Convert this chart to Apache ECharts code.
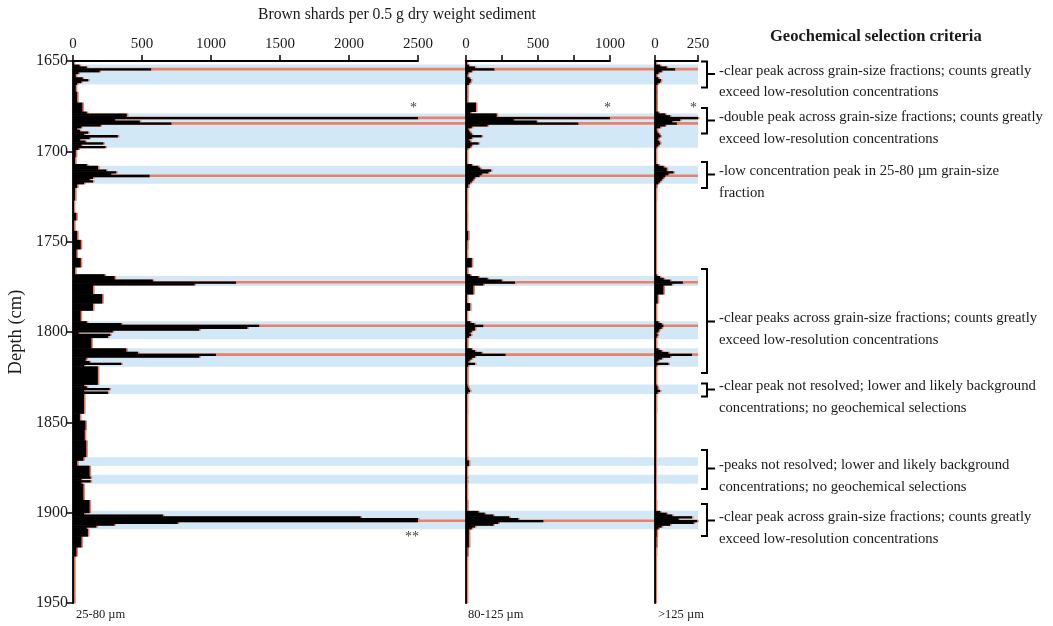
<!DOCTYPE html>
<html>
<head>
<meta charset="utf-8">
<script src="https://cdn.jsdelivr.net/npm/echarts@6/dist/echarts.min.js"></script>
<style>html,body{margin:0;padding:0;background:#fff;}#c{width:1053px;height:626px;}</style>
</head>
<body>
<div id="c"></div>
<script>
// depth bin boundaries (cm); value i covers depthEdges[i]..depthEdges[i+1]
const depthEdges = [1650,1652,1653,1654,1655,1656,1657,1659,1660,1661,1662,1663,1667,1673,1678,
  1679,1680,1681,1682,1683,1684,1685,1686,1687,1688,1689,1690,1691,1692,1693,1694,1695,1696,1697,1698,
  1699,1703,1707,1708,1709,1710,1711,1712,1713,1714,1715,1716,1717,1718,1720,1727,1734,1738,1744,1749,
  1754,1759,1764,1768,1769,1770,1771,1772,1773,1774,1779,1784,1788,1794,1795,1796,1797,1798,1799,1800,
  1801,1802,1803,1809,1810,1811,1812,1813,1814,1815,1816,1817,1818,1819,1829,1830,1831,1832,1833,1834,
  1845,1849,1854,1860,1865,1869,1871,1873,1874,1880,1881,1882,1883,1884,1893,1899,1900,1901,1902,1903,
  1904,1905,1906,1907,1908,1909,1913,1919,1924,1950];

// Brown shards per 0.5 g dry weight sediment
const count25to80 = [5,48,100,566,193,40,20,70,110,60,30,20,30,68,
  100,390,390,2500,303,484,713,200,60,30,50,110,80,325,120,50,90,220,60,235,40,
  20,15,100,181,181,241,313,277,555,145,120,145,80,30,15,5,24,8,30,56,
  25,56,15,229,301,301,578,1181,880,145,212,145,55,100,350,1349,1263,915,288,40,
  270,253,133,386,386,470,1036,915,97,90,120,350,80,180,80,100,265,80,253,80,
  50,90,85,96,96,75,30,30,120,128,60,128,60,75,120,120,80,651,2084,2500,
  2500,759,300,169,100,108,61,25,8];
const count80to125 = [5,20,62,197,40,15,10,25,35,30,20,8,8,69,
  30,213,213,1000,330,491,780,150,40,15,20,30,40,109,40,20,30,87,40,30,10,
  6,6,40,86,100,174,155,109,94,60,51,40,28,15,6,5,6,5,15,8,
  6,40,8,30,86,150,248,340,120,51,6,28,5,30,58,120,62,62,40,25,
  35,20,8,40,62,109,275,62,40,25,15,62,15,8,10,15,20,28,15,6,
  5,5,5,5,5,8,20,20,5,8,5,8,5,5,8,86,130,190,300,363,
  537,224,190,62,40,20,20,10,5];
const countOver125 = [5,30,68,117,39,20,8,20,35,30,15,8,8,8,
  20,60,88,250,146,100,127,60,30,10,10,15,25,32,20,15,25,30,20,10,5,
  5,5,20,50,68,68,107,78,60,49,40,30,20,8,5,3,3,3,3,3,
  3,3,3,10,29,50,88,162,98,49,15,5,5,20,39,49,39,25,20,10,
  15,10,5,20,39,78,215,88,40,20,10,78,10,5,10,15,15,29,15,5,
  3,3,3,3,3,3,3,3,3,3,3,3,3,3,5,30,68,100,215,137,
  245,225,88,39,20,10,8,5,3];

// highlighted tephra intervals (blue) and geochemical selection depths (red)
const bandTop  = [1652,1679,1708,1769,1794,1809,1829,1869.3,1879,1899];
const bandBase = [1663,1698,1718,1774.5,1804,1819.2,1834.3,1874.1,1884,1909.2];
const selectionDepths = [1654.5,1681.5,1684.5,1713.5,1772.5,1796.5,1812.5,1904.5];

const fractionLabels = ['25-80 \u00b5m','80-125 \u00b5m','>125 \u00b5m'];
const criteriaText = [
  ['-clear peak across grain-size fractions; counts greatly','exceed low-resolution concentrations'],
  ['-double peak across grain-size fractions; counts greatly','exceed low-resolution concentrations'],
  ['-low concentration peak in 25-80 \u00b5m grain-size','fraction'],
  ['-clear peaks across grain-size fractions; counts greatly','exceed low-resolution concentrations'],
  ['-clear peak not resolved; lower and likely background','concentrations; no geochemical selections'],
  ['-peaks not resolved; lower and likely background','concentrations; no geochemical selections'],
  ['-clear peak across grain-size fractions; counts greatly','exceed low-resolution concentrations']
];

const FONT = 'Liberation Serif';
const TXT = '#1a1a1a';

function bins(vals){ return vals.map((v,i)=>[depthEdges[i], depthEdges[i+1], v]); }

function makeBarRender(color, dx){
  return function(params, api){
    const a = api.coord([0, api.value(0)]);
    const b = api.coord([api.value(2), api.value(1)]);
    return {type:'rect', shape:{x:a[0], y:a[1], width:b[0]-a[0]+dx, height:b[1]-a[1]+0.5},
      style:{fill:color}};
  };
}
function bandRender(params, api){
  const a = api.coord([0, api.value(0)]);
  const b = api.coord([1, api.value(1)]);
  return {type:'rect', shape:{x:a[0], y:a[1], width:b[0]-a[0], height:b[1]-a[1]}, style:{fill:'#d2e8f6'}};
}
function redRender(params, api){
  const a = api.coord([0, api.value(0)]);
  const b = api.coord([1, api.value(0)]);
  return {type:'line', shape:{x1:a[0], y1:a[1], x2:b[0], y2:b[1]}, style:{stroke:'#e9806a', lineWidth:2.6}};
}

const TOP = 61, H = 542;
const lineStyle = {color:'#000', width:1.8};
function xAx(grid, max, interval, fmt){
  return {gridIndex:grid, type:'value', position:'top', min:0, max:max, interval:interval, z:6,
    axisLine:{show:true, onZero:false, lineStyle:lineStyle},
    axisTick:{show:true, length:6, lineStyle:{color:'#000', width:1.5}},
    axisLabel:{show:true, margin:9, fontFamily:FONT, fontSize:15, color:TXT, formatter:fmt},
    splitLine:{show:false}};
}
function yAx(grid, showLabels){
  return {gridIndex:grid, type:'value', min:1650, max:1950, interval:50, inverse:true, z:6,
    axisLine:{show:true, onZero:false, lineStyle:lineStyle},
    axisTick:{show:showLabels, length:6, lineStyle:{color:'#000', width:1.5}},
    axisLabel:{show:showLabels, margin:5, fontFamily:FONT, fontSize:16, color:TXT, formatter:v=>String(v)},
    splitLine:{show:false},
    name: showLabels ? 'Depth (cm)' : '', nameLocation:'middle', nameGap:47, nameRotate:90,
    nameTextStyle:{fontFamily:FONT, fontSize:18.5, color:TXT}};
}

const graphics = [];
graphics.push({type:'text', left:258, top:7, style:{text:'Brown shards per 0.5 g dry weight sediment', font:'15.7px "Liberation Serif"', fill:TXT}});
graphics.push({type:'text', left:770, top:28, style:{text:'Geochemical selection criteria', font:'bold 16.5px "Liberation Serif"', fill:TXT}});
const fracX = [76, 468, 658];
fractionLabels.forEach((t,i)=>graphics.push({type:'text', left:fracX[i], top:608, style:{text:t, font:'12.5px "Liberation Serif"', fill:TXT}}));
// asterisks marking off-scale peaks
[[410,101,'*'],[604,101,'*'],[690,101,'*'],[405,530,'**']].forEach(s=>graphics.push({type:'text', left:s[0], top:s[1], style:{text:s[2], font:'14px "Liberation Serif"', fill:'#444'}}));
// brackets and criteria text
const brackets = [[61.5,87.5,74],[108,133.5,120.5],[162,188,174.5],[269,373,321.5],[383.5,396.5,389.5],[450,489,468.5],[504,536,520.5]];
brackets.forEach((b,i)=>{
  graphics.push({type:'polyline', shape:{points:[[701,b[0]],[707,b[0]],[707,b[1]],[701,b[1]]]}, style:{stroke:'#000', lineWidth:2, fill:null}});
  graphics.push({type:'line', shape:{x1:707, y1:b[2], x2:715, y2:b[2]}, style:{stroke:'#000', lineWidth:2}});
  graphics.push({type:'text', left:719, top:b[2]-10.5, style:{text:criteriaText[i][0], font:'14.7px "Liberation Serif"', fill:TXT}});
  graphics.push({type:'text', left:719, top:b[2]+11, style:{text:criteriaText[i][1], font:'14.7px "Liberation Serif"', fill:TXT}});
});

const panelData = [count25to80, count80to125, countOver125];
const barSeries = [];
panelData.forEach((vals, k)=>{
  barSeries.push({type:'custom', xAxisIndex:k, yAxisIndex:k, z:3, silent:true, renderItem:makeBarRender('#e8806a', 1.6), data:bins(vals), encode:{x:2, y:[0,1]}});
  barSeries.push({type:'custom', xAxisIndex:k, yAxisIndex:k, z:4, renderItem:makeBarRender('#000', 0), data:bins(vals), encode:{x:2, y:[0,1]}});
});

const chart = echarts.init(document.getElementById('c'), null, {renderer:'canvas'});
chart.setOption({
  backgroundColor:'#fff',
  animation:false,
  grid:[
    {left:73, top:TOP, width:345, height:H},
    {left:466, top:TOP, width:144, height:H},
    {left:655, top:TOP, width:43, height:H},
    {left:73, top:TOP, width:625, height:H}
  ],
  xAxis:[
    xAx(0, 2500, 500, v=>String(v)),
    xAx(1, 1000, 250, v=>(v % 500 === 0 ? String(v) : '')),
    xAx(2, 250, 250, v=>String(v)),
    {gridIndex:3, type:'value', min:0, max:1, show:false}
  ],
  yAxis:[
    yAx(0, true), yAx(1, false), yAx(2, false),
    {gridIndex:3, type:'value', min:1650, max:1950, inverse:true, show:false}
  ],
  series:[
    {type:'custom', xAxisIndex:3, yAxisIndex:3, z:1, silent:true, renderItem:bandRender,
      data:bandTop.map((t,i)=>[t, bandBase[i]]), encode:{y:[0,1]}},
    {type:'custom', xAxisIndex:3, yAxisIndex:3, z:2, silent:true, renderItem:redRender,
      data:selectionDepths.map(d=>[d]), encode:{y:0}}
  ].concat(barSeries),
  graphic:graphics
});
</script>
</body>
</html>
